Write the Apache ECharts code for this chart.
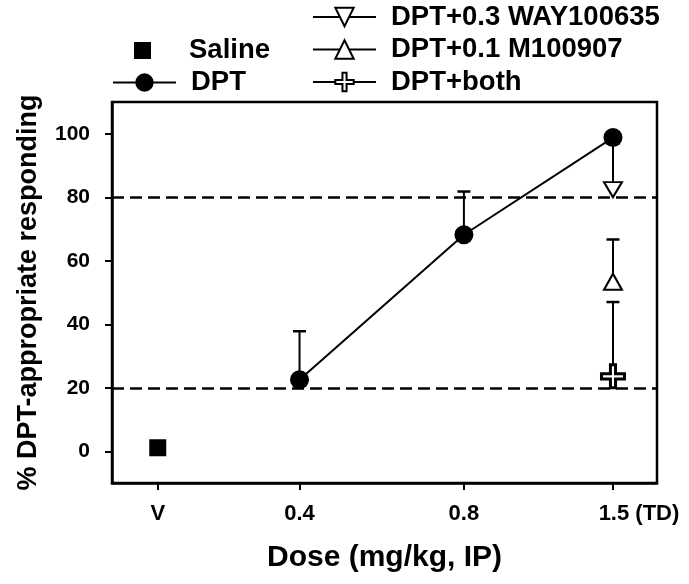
<!DOCTYPE html>
<html>
<head>
<meta charset="utf-8">
<script src="https://cdn.jsdelivr.net/npm/echarts@6/dist/echarts.min.js"></script>
<style>html,body{margin:0;padding:0;background:#fff}#c{width:689px;height:584px}</style>
</head>
<body>
<div id="c"></div>
<script>
// ---- data ----
const tickDoses = [0.22, 0.4, 0.8, 1.5];
const tickLabels = ['V', '0.4', '0.8', '1.5 (TD)'];
const yTicks = [0, 20, 40, 60, 80, 100];
const refLines = [20, 80];

const salineDose = [0.22];
const salineVal = [1.1];

const dptDose = [0.4, 0.8, 1.5];
const dptVal = [22.5, 68.2, 98.8];
const dptErrTop = [37.8, 81.8, null];

const wayDose = [1.5];
const wayVal = [82.4];
const wayErrTop = [97];

const mDose = [1.5];
const mVal = [53.4];
const mErrTop = [66.7];

const bothDose = [1.5];
const bothVal = [23.6];
const bothErrTop = [47];

// ---- build ----
const FONT = 'Liberation Sans, Arial, Helvetica, sans-serif';
const pairs = (xs, ys) => xs.map((x, i) => [x, ys[i]]);
const errData = [];
[[dptDose, dptVal, dptErrTop], [wayDose, wayVal, wayErrTop], [mDose, mVal, mErrTop], [bothDose, bothVal, bothErrTop]]
  .forEach(([xs, ys, es]) => xs.forEach((x, i) => { if (es[i] != null) errData.push([x, ys[i], es[i]]); }));

const downTri = 'path://M0,0 L18,0 L9,15 Z';
const plus = 'path://M3.5,0 L5.5,0 L5.5,3.5 L9,3.5 L9,5.5 L5.5,5.5 L5.5,9 L3.5,9 L3.5,5.5 L0,5.5 L0,3.5 L3.5,3.5 Z';

function xLabel(v) {
  for (let i = 0; i < tickDoses.length; i++) {
    if (Math.abs(v - tickDoses[i]) / tickDoses[i] < 1e-3) {
      return i === tickDoses.length - 1 ? '{p|}{t|' + tickLabels[i] + '}' : '{t|' + tickLabels[i] + '}';
    }
  }
  return '';
}

const hollow = { color: '#fff', borderColor: '#000', borderWidth: 2 };
const blackLine = { color: '#000', width: 2 };

const legendText = { fontFamily: FONT, fontWeight: 'bold', fontSize: 27.5, color: '#000', padding: [0, 0, 0, 10], lineHeight: 23 };

const option = {
  animation: false,
  backgroundColor: '#fff',
  grid: { left: 112, right: 32, top: 102, bottom: 101, show: true, borderColor: '#000', borderWidth: 2.5, backgroundColor: 'transparent' },
  legend: [
    { data: ['Saline'], left: 134, top: 36.5, padding: 0, orient: 'vertical', itemWidth: 17, itemHeight: 17, selectedMode: false,
      icon: 'rect', itemStyle: { color: '#000', opacity: 1 },
      textStyle: Object.assign({}, legendText, { lineHeight: 17, padding: [0, 0, 0, 33] }) },
    { data: ['DPT'], left: 112, top: 68.5, padding: 0, orient: 'vertical', itemWidth: 63, itemHeight: 23, selectedMode: false,
      textStyle: legendText },
    { data: ['DPT+0.3 WAY100635', 'DPT+0.1 M100907', 'DPT+both'], left: 312, top: 3, padding: 0, orient: 'vertical',
      itemWidth: 63, itemHeight: 23, itemGap: 4.5, selectedMode: false, textStyle: legendText }
  ],
  xAxis: {
    type: 'log', logBase: 10, min: 0.1814, max: 1.806,
    name: 'Dose (mg/kg, IP)', nameLocation: 'middle', nameGap: 60,
    nameTextStyle: { fontFamily: FONT, fontWeight: 'bold', fontSize: 30, color: '#000' },
    axisLine: { onZero: false, lineStyle: { color: '#000', width: 2.5 } },
    axisTick: { show: true, customValues: tickDoses, length: 7, lineStyle: { color: '#000', width: 2 } },
    minorTick: { show: false },
    axisLabel: { customValues: tickDoses, formatter: xLabel, margin: 20,
      rich: {
        p: { width: 52 },
        t: { fontFamily: FONT, fontWeight: 'bold', fontSize: 22, color: '#000' }
      } },
    splitLine: { show: false }
  },
  yAxis: {
    type: 'value', min: -10, max: 110,
    name: '% DPT-appropriate responding', nameLocation: 'middle', nameGap: 70,
    nameTextStyle: { fontFamily: FONT, fontWeight: 'bold', fontSize: 27, color: '#000' },
    axisLine: { show: true, onZero: false, lineStyle: { color: '#000', width: 2.5 } },
    axisTick: { show: true, customValues: yTicks, length: 7, lineStyle: { color: '#000', width: 2 } },
    axisLabel: { customValues: yTicks, margin: 22, fontFamily: FONT, fontWeight: 'bold', fontSize: 21, color: '#000' },
    splitLine: { show: false }
  },
  series: [
    {
      type: 'custom', name: 'err', z: 1, silent: true,
      data: errData,
      renderItem: function (params, api) {
        const x = api.value(0);
        const p0 = api.coord([x, api.value(1)]);
        const p1 = api.coord([x, api.value(2)]);
        return { type: 'group', children: [
          { type: 'line', shape: { x1: p0[0], y1: p0[1], x2: p1[0], y2: p1[1] }, style: { stroke: '#000', lineWidth: 2 } },
          { type: 'line', shape: { x1: p1[0] - 6.5, y1: p1[1], x2: p1[0] + 6.5, y2: p1[1] }, style: { stroke: '#000', lineWidth: 2.5 } }
        ] };
      }
    },
    {
      type: 'scatter', name: 'Saline', z: 3, symbol: 'rect', symbolSize: 17,
      itemStyle: { color: '#000', opacity: 1 },
      data: pairs(salineDose, salineVal)
    },
    {
      type: 'line', name: 'DPT', z: 3, symbol: 'circle', symbolSize: 19, showAllSymbol: true,
      itemStyle: { color: '#000' }, lineStyle: blackLine,
      data: pairs(dptDose, dptVal),
      markLine: {
        silent: true, symbol: 'none', label: { show: false },
        lineStyle: { color: '#000', width: 2.5, type: [12, 6] },
        data: refLines.map(v => ({ yAxis: v }))
      }
    },
    {
      type: 'line', name: 'DPT+0.3 WAY100635', z: 4, symbol: downTri, symbolSize: [18, 15],
      itemStyle: hollow, lineStyle: blackLine,
      data: pairs(wayDose, wayVal)
    },
    {
      type: 'line', name: 'DPT+0.1 M100907', z: 4, symbol: 'triangle', symbolSize: [18, 16],
      itemStyle: hollow, lineStyle: blackLine,
      data: pairs(mDose, mVal)
    },
    {
      type: 'line', name: 'DPT+both', z: 4, symbol: plus, symbolSize: [23, 23],
      itemStyle: { color: '#fff', borderColor: '#000', borderWidth: 3 }, lineStyle: blackLine,
      data: pairs(bothDose, bothVal)
    }
  ]
};

const chart = echarts.init(document.getElementById('c'), null, { renderer: 'canvas' });
chart.setOption(option);
</script>
</body>
</html>
